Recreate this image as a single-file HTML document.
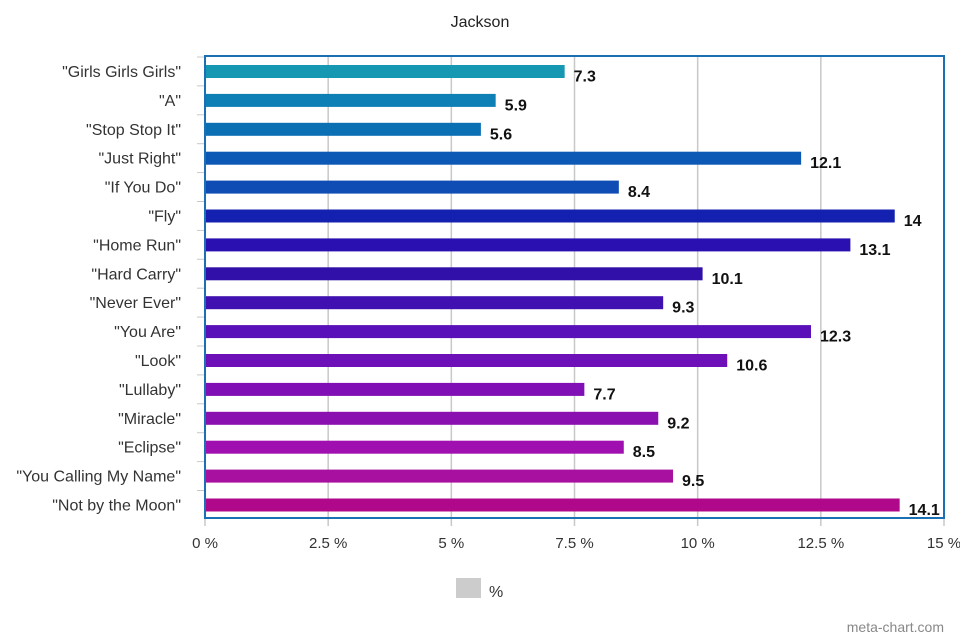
<!DOCTYPE html>
<html><head><meta charset="utf-8"><style>
body{margin:0;background:#fff;font-family:"Liberation Sans",sans-serif;overflow:hidden}
svg text{font-family:"Liberation Sans",sans-serif}
</style></head><body>
<svg id="c" width="960" height="640" style="display:block">
<text x="480" y="27" text-anchor="middle" font-size="16" fill="#222">Jackson</text>
<g id="grid"></g><g id="bars"></g><g id="ylab"></g><g id="xlab"></g>
<rect x="205" y="56" width="739" height="462" fill="none" stroke="#1a6fb5" stroke-width="2"/>
<rect x="456" y="578" width="25" height="20" fill="#cccccc"/>
<text x="489" y="597" font-size="16" fill="#333">%</text>
<text x="944" y="632" text-anchor="end" font-size="14" fill="#888">meta-chart.com</text>
</svg>
<script>
const categories=['"Girls Girls Girls"','"A"','"Stop Stop It"','"Just Right"','"If You Do"','"Fly"','"Home Run"','"Hard Carry"','"Never Ever"','"You Are"','"Look"','"Lullaby"','"Miracle"','"Eclipse"','"You Calling My Name"','"Not by the Moon"'];
const values=[7.3,5.9,5.6,12.1,8.4,14,13.1,10.1,9.3,12.3,10.6,7.7,9.2,8.5,9.5,14.1];
const ticks=[0,2.5,5,7.5,10,12.5,15];
const tickLabels=['0 %','2.5 %','5 %','7.5 %','10 %','12.5 %','15 %'];
const colors=['#1697b2','#0e80b5','#0a6fb3','#0c58b5','#0f4db5','#1420b0','#2a10b0','#3010a8','#4010b0','#5a10b8','#6e10b8','#8010b5','#8a10b0','#a010b0','#a810a0','#b0088a'];
const NS='http://www.w3.org/2000/svg';
const x=v=>205+v*(739/15);
const y=i=>71.5+i*28.9;
function mk(t,a,p){const e=document.createElementNS(NS,t);for(const k in a)e.setAttribute(k,a[k]);p.appendChild(e);return e;}
const G=document.getElementById('grid'),B=document.getElementById('bars'),YL=document.getElementById('ylab'),XL=document.getElementById('xlab');
ticks.forEach((t,i)=>{
 const l=mk('line',{x1:x(t),x2:x(t),y1:56,y2:526,stroke:'#c8c8c8','stroke-width':1.5},G);
 
 
 const tx=mk('text',{x:x(t),y:548,'text-anchor':'middle','font-size':15,fill:'#333'},XL);
 tx.textContent=tickLabels[i];
 
 
});
categories.forEach((c,i)=>{
 const r=mk('rect',{x:205,y:y(i)-6.5,width:x(values[i])-205,height:13,fill:colors[i]},B);
 
 
 const v=mk('text',{x:x(values[i])+9,y:y(i)+10,'font-size':16,'font-weight':'bold',fill:'#111'},B);
 v.textContent=values[i];
 
 
 const tl=mk('line',{x1:197,x2:205,y1:y(i)-14.5,y2:y(i)-14.5,stroke:'#c8c8c8'},G);
 
 
 const lb=mk('text',{x:181,y:y(i)+5.5,'text-anchor':'end','font-size':16,fill:'#333'},YL);
 lb.textContent=c;
 
 
});
</script>
</body></html>
